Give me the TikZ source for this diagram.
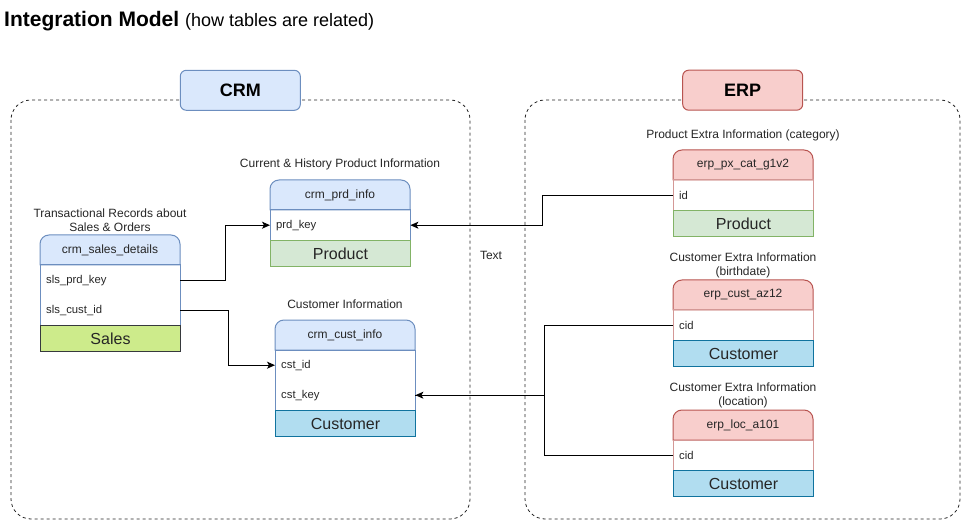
\documentclass[tikz,border=0pt]{standalone}
\usepackage{fontspec}
\setmainfont{Liberation Sans}
\usetikzlibrary{arrows.meta}

\definecolor{crmfill}{HTML}{DAE8FC}
\definecolor{crmline}{HTML}{6C8EBF}
\definecolor{erpfill}{HTML}{F8CECC}
\definecolor{erpline}{HTML}{B85450}
\definecolor{prodfill}{HTML}{D5E8D4}
\definecolor{prodline}{HTML}{82B366}
\definecolor{salesfill}{HTML}{CDEB8B}
\definecolor{salesline}{HTML}{36393D}
\definecolor{custfill}{HTML}{B1DDF0}
\definecolor{custline}{HTML}{10739E}

\tikzset{
  zonebox/.style={draw=black!85, line width=0.8pt, dash pattern=on 3pt off 3pt, rounded corners=20pt},
  grouptitle/.style={line width=1pt, rounded corners=6pt, minimum width=120pt, minimum height=40pt, font=\fontsize{18}{20}\selectfont\bfseries},
  notetext/.style={align=center, inner sep=0pt, font=\fontsize{12}{14.5}\selectfont, text=black!85},
  tabname/.style={inner sep=0pt, font=\fontsize{12}{14}\selectfont, text=black!85},
  rowcell/.style={anchor=north west, minimum height=30pt, text width=128pt, inner xsep=6pt, inner ysep=0pt, align=left, font=\fontsize{11.3}{13}\selectfont, text=black!85},
  bandcell/.style={anchor=north west, line width=1pt, minimum width=140pt, minimum height=25.5pt, inner sep=0pt, font=\fontsize{16}{18}\selectfont, text=black!85},
  fkwire/.style={line width=1pt},
  fklink/.style={fkwire, -{Stealth[length=8pt,width=7pt,inset=2pt]}}
}

\begin{document}
\begin{tikzpicture}[x=1pt, y=1pt]
    \useasboundingbox (0,0) rectangle (961,-521);

    % title
    \node[anchor=base west, inner sep=0pt] (title) at (4,-27) {\fontsize{21}{24}\selectfont\bfseries Integration Model \fontsize{18}{20}\selectfont\mdseries (how tables are related)};

    % the two systems
    \draw[zonebox] (11,-100) rectangle (470,-519);
    \draw[zonebox] (525,-100) rectangle (960,-519);
    \node[grouptitle, fill=crmfill, draw=crmline] (crm) at (240.3,-90.3) {CRM};
    \node[grouptitle, fill=erpfill, draw=erpline] (erp) at (742.7,-90.2) {ERP};

    % crm_sales_details
    \node[notetext] (saleslbl) at (110,-220) {Transactional Records about\\Sales \& Orders};
    \draw[crmline, fill=crmfill, line width=1pt] (40,-265) -- (40,-244) arc[start angle=180, end angle=90, radius=9] -- (171,-235) arc[start angle=90, end angle=0, radius=9] -- (180,-265) -- cycle;
    \node[tabname] (salesname) at (110,-250) {crm\_sales\_details};
    \node[rowcell] (slsprd) at (40,-265) {sls\_prd\_key};
    \node[rowcell] (slscust) at (40,-295) {sls\_cust\_id};
    \draw[crmline, line width=1pt] (slsprd.north west) rectangle (slscust.south east);
    \node[bandcell, fill=salesfill, draw=salesline] (salesband) at (slscust.south west) {Sales};

    % crm_prd_info
    \node[notetext] (prdlbl) at (340,-164) {Current \& History Product Information};
    \draw[crmline, fill=crmfill, line width=1pt] (270,-210) -- (270,-189) arc[start angle=180, end angle=90, radius=9] -- (401,-180) arc[start angle=90, end angle=0, radius=9] -- (410,-210) -- cycle;
    \node[tabname] (prdname) at (340,-195) {crm\_prd\_info};
    \node[rowcell] (prdkey) at (270,-210) {prd\_key};
    \draw[crmline, line width=1pt] (prdkey.north west) rectangle (prdkey.south east);
    \node[bandcell, fill=prodfill, draw=prodline] (prdband) at (prdkey.south west) {Product};

    % crm_cust_info
    \node[notetext] (custlbl) at (345,-304) {Customer Information};
    \draw[crmline, fill=crmfill, line width=1pt] (275,-350) -- (275,-329) arc[start angle=180, end angle=90, radius=9] -- (406,-320) arc[start angle=90, end angle=0, radius=9] -- (415,-350) -- cycle;
    \node[tabname] (custname) at (345,-335) {crm\_cust\_info};
    \node[rowcell] (cstid) at (275,-350) {cst\_id};
    \node[rowcell] (cstkey) at (275,-380) {cst\_key};
    \draw[crmline, line width=1pt] (cstid.north west) rectangle (cstkey.south east);
    \node[bandcell, fill=custfill, draw=custline] (custband) at (cstkey.south west) {Customer};

    % erp_px_cat_g1v2
    \node[notetext] (pxlbl) at (743,-135) {Product Extra Information (category)};
    \draw[erpline, fill=erpfill, line width=1pt] (673,-180) -- (673,-159) arc[start angle=180, end angle=90, radius=9] -- (804,-150) arc[start angle=90, end angle=0, radius=9] -- (813,-180) -- cycle;
    \node[tabname] (pxname) at (743,-165) {erp\_px\_cat\_g1v2};
    \node[rowcell] (pxid) at (673,-180) {id};
    \draw[erpline!60, line width=1pt] (pxid.north west) rectangle (pxid.south east);
    \node[bandcell, fill=prodfill, draw=prodline] (pxband) at (pxid.south west) {Product};

    % erp_cust_az12
    \node[notetext] (azlbl) at (743,-265.5) {Customer Extra Information\\(birthdate)};
    \draw[erpline, fill=erpfill, line width=1pt] (673,-310) -- (673,-289) arc[start angle=180, end angle=90, radius=9] -- (804,-280) arc[start angle=90, end angle=0, radius=9] -- (813,-310) -- cycle;
    \node[tabname] (azname) at (743,-295) {erp\_cust\_az12};
    \node[rowcell] (azcid) at (673,-310) {cid};
    \draw[erpline!60, line width=1pt] (azcid.north west) rectangle (azcid.south east);
    \node[bandcell, fill=custfill, draw=custline] (azband) at (azcid.south west) {Customer};

    % erp_loc_a101
    \node[notetext] (loclbl) at (743,-395.5) {Customer Extra Information\\(location)};
    \draw[erpline, fill=erpfill, line width=1pt] (673,-440) -- (673,-419) arc[start angle=180, end angle=90, radius=9] -- (804,-410) arc[start angle=90, end angle=0, radius=9] -- (813,-440) -- cycle;
    \node[tabname] (locname) at (743,-425) {erp\_loc\_a101};
    \node[rowcell] (loccid) at (673,-440) {cid};
    \draw[erpline!60, line width=1pt] (loccid.north west) rectangle (loccid.south east);
    \node[bandcell, fill=custfill, draw=custline] (locband) at (loccid.south west) {Customer};

    \node[notetext] (textlbl) at (491,-255) {Text};

    % keys
    \draw[fklink] (slsprd.east) -- ++(45,0) |- (prdkey.west);
    \draw[fklink] (slscust.east) -- ++(48,0) |- (cstid.west);
    \draw[fklink] (pxid.west) -- ++(-131,0) |- (prdkey.east);
    \draw[fklink] (azcid.west) -- ++(-129,0) |- (cstkey.east);
    \draw[fkwire] (loccid.west) -- ++(-129,0) |- (cstkey.east);
\end{tikzpicture}
\end{document}
